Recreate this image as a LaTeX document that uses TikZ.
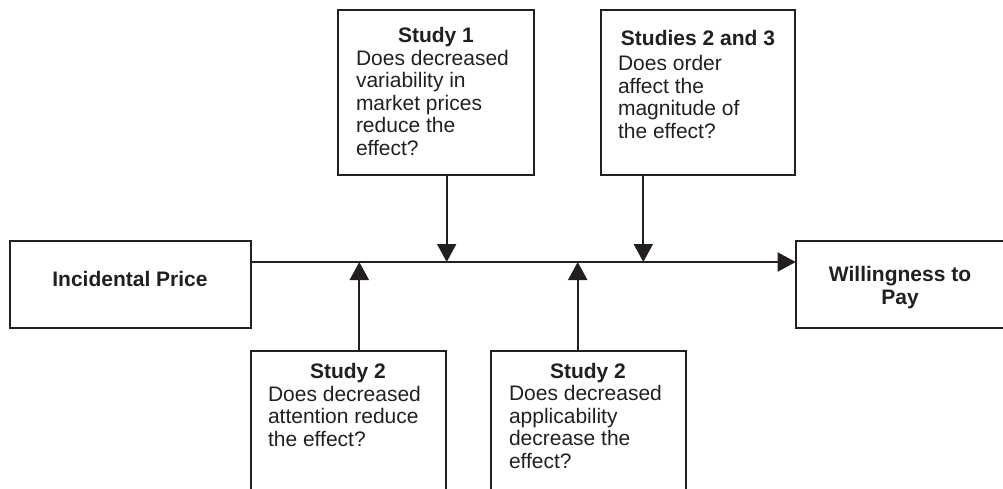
\documentclass[tikz,border=0pt]{standalone}
\usepackage{fontspec}
\setmainfont{Liberation Sans}
\usetikzlibrary{arrows.meta}
\definecolor{ink}{HTML}{231F20}
\tikzset{
  box/.style={draw=ink, line width=2pt, rectangle, anchor=north west, inner sep=0pt, outer sep=0pt},
  lbl/.style={text=ink, font=\fontsize{21}{22.5}\selectfont, inner sep=0pt, outer sep=0pt},
  hd/.style={lbl, font=\fontsize{21}{22.5}\selectfont\bfseries},
  conn/.style={draw=ink, line width=2pt, -{Triangle[width=19pt,length=18pt]}, shorten >=0pt}
}
\begin{document}
\begin{tikzpicture}[x=1pt,y=-1pt]
\useasboundingbox (0,0) rectangle (1003,488);
\clip (0,0) rectangle (1003,488);
% boxes
\node[box, minimum width=240.5pt, minimum height=87pt] (ip) at (10,241) {};
\node[box, minimum width=195.5pt, minimum height=164.5pt] (s1) at (338.3,10) {};
\node[box, minimum width=194.6pt, minimum height=164.5pt] (s23) at (600.7,10) {};
\node[box, minimum width=220pt, minimum height=87pt] (wtp) at (795.7,241) {};
\node[box, minimum width=194.7pt, minimum height=160pt] (s2a) at (251,350.7) {};
\node[box, minimum width=195.3pt, minimum height=160pt] (s2b) at (490.7,350.7) {};
% texts
\node[hd, anchor=base] (tip) at (130,286) {Incidental Price};
\node[hd, align=center, anchor=base] (twtp) at (900,304) {Willingness to\\Pay};
\node[hd, anchor=base] (t1h) at (436,42) {Study 1};
\node[lbl, align=left, anchor=base west] (t1b) at (356,155) {Does decreased\\variability in\\market prices\\reduce the\\effect?};
\node[hd, anchor=base] (t23h) at (698,45) {Studies 2 and 3};
\node[lbl, align=left, anchor=base west] (t23b) at (618,138) {Does order\\affect the\\magnitude of\\the effect?};
\node[hd, anchor=base] (t2ah) at (348,378) {Study 2};
\node[lbl, align=left, anchor=base west] (t2ab) at (268,446) {Does decreased\\attention reduce\\the effect?};
\node[hd, anchor=base] (t2bh) at (588,378) {Study 2};
\node[lbl, align=left, anchor=base west] (t2bb) at (509,468) {Does decreased\\applicability\\decrease the\\effect?};
% junctions on the main line
\coordinate (ja) at (359.3,262);
\coordinate (j1) at (446.7,262);
\coordinate (jb) at (577.7,262);
\coordinate (j23) at (643.3,262);
% connectors
\draw[conn] ([yshift=-21pt]ip.north east) -- ([yshift=-21pt]wtp.north west);
\draw[conn] (s1.south -| j1) -- (j1);
\draw[conn] (s23.south -| j23) -- (j23);
\draw[conn] (s2a.north -| ja) -- (ja);
\draw[conn] (s2b.north -| jb) -- (jb);
\end{tikzpicture}
\end{document}
